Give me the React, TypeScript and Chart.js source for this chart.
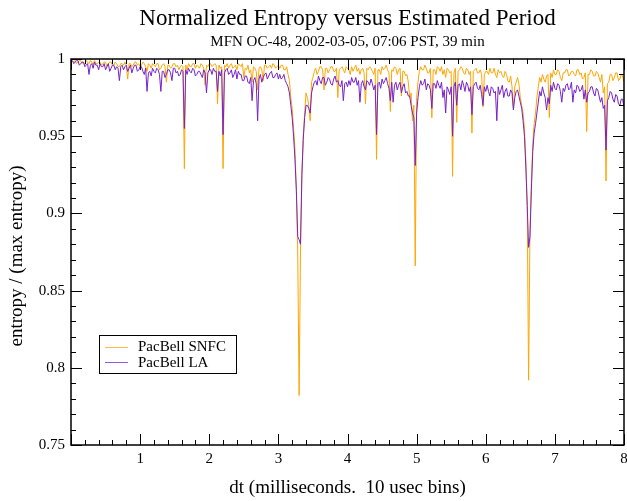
import React, { useEffect, useRef } from "react";
import { Chart, registerables } from "chart.js";

Chart.register(...registerables);

// ---- data -----------------------------------------------------------------
const titleText = "Normalized Entropy versus Estimated Period";
const subtitleText = "MFN OC-48, 2002-03-05, 07:06 PST, 39 min";
const xAxisTitle = "dt (milliseconds.  10 usec bins)";
const yAxisTitle = "entropy / (max entropy)";
const seriesNames = ["PacBell SNFC", "PacBell LA"];

// bin positions (ms), 20 usec apart
const binCount = 400;
const binWidthMs = 0.02;
const dtMs: number[] = Array.from({ length: binCount }, (_, k) => +((k + 1) * binWidthMs).toFixed(2));

const snfcEntropy: number[] = [
  // 0 - 1 ms
  0.999, 0.998, 0.999, 0.997, 0.998, 0.999, 0.999, 0.997, 0.998, 0.996, 0.999, 0.998, 0.997, 0.999, 0.998, 0.996, 0.999, 0.997, 0.997, 0.998, 0.998, 0.996, 0.997, 0.998, 0.998, 0.995,
  0.997, 0.998, 0.998, 0.996, 0.996, 0.998, 0.997, 0.995, 0.995, 0.997, 0.997, 0.996, 0.998, 0.996, 0.987, 0.997, 0.997, 0.995, 0.996, 0.998, 0.998, 0.996, 0.997, 0.995,
  // 1 - 2 ms
  0.996, 0.998, 0.997, 0.995, 0.992, 0.997, 0.996, 0.994, 0.997, 0.996, 0.995, 0.997, 0.997, 0.993, 0.994, 0.996, 0.997, 0.995, 0.985, 0.996, 0.996, 0.994, 0.995, 0.997, 0.997,
  0.995, 0.996, 0.993, 0.995, 0.996, 0.995, 0.929, 0.996, 0.993, 0.997, 0.995, 0.995, 0.997, 0.997, 0.994, 0.996, 0.995, 0.994, 0.997, 0.996, 0.994, 0.983, 0.996, 0.995, 0.997,
  // 2 - 3 ms
  0.997, 0.995, 0.996, 0.997, 0.996, 0.971, 0.996, 0.994, 0.995, 0.929, 0.996, 0.995, 0.997, 0.994, 0.996, 0.997, 0.994, 0.995, 0.996, 0.993, 0.997, 0.996, 0.995, 0.997, 0.988,
  0.994, 0.993, 0.996, 0.991, 0.993, 0.985, 0.995, 0.994, 0.992, 0.980, 0.994, 0.995, 0.993, 0.986, 0.996, 0.996, 0.994, 0.995, 0.996, 0.994, 0.997, 0.996, 0.994, 0.995, 0.996,
  // 3 - 4 ms
  0.994, 0.996, 0.996, 0.993, 0.993, 0.995, 0.990, 0.986, 0.975, 0.968, 0.955, 0.942, 0.915, 0.875, 0.782, 0.875, 0.925, 0.950, 0.965, 0.978, 0.975, 0.970, 0.960, 0.985, 0.988,
  0.992, 0.994, 0.990, 0.992, 0.995, 0.995, 0.993, 0.980, 0.994, 0.994, 0.991, 0.993, 0.995, 0.995, 0.992, 0.992, 0.994, 0.975, 0.993, 0.994, 0.995, 0.993, 0.991, 0.995, 0.994,
  // 4 - 5 ms
  0.993, 0.990, 0.995, 0.992, 0.994, 0.996, 0.992, 0.994, 0.990, 0.993, 0.994, 0.991, 0.971, 0.994, 0.993, 0.995, 0.994, 0.992, 0.990, 0.994, 0.935, 0.993, 0.993, 0.990, 0.995,
  0.993, 0.994, 0.996, 0.993, 0.991, 0.966, 0.993, 0.992, 0.995, 0.994, 0.990, 0.993, 0.994, 0.976, 0.992, 0.992, 0.989, 0.990, 0.985, 0.975, 0.978, 0.960, 0.970, 0.866, 0.975,
  // 5 - 6 ms
  0.985, 0.992, 0.995, 0.993, 0.993, 0.996, 0.994, 0.991, 0.991, 0.994, 0.962, 0.993, 0.993, 0.990, 0.995, 0.994, 0.992, 0.995, 0.990, 0.993, 0.988, 0.994, 0.993, 0.991, 0.992,
  0.924, 0.991, 0.994, 0.959, 0.992, 0.993, 0.995, 0.994, 0.991, 0.990, 0.994, 0.993, 0.990, 0.992, 0.952, 0.992, 0.993, 0.994, 0.991, 0.991, 0.993, 0.990, 0.969, 0.990, 0.992,
  // 6 - 7 ms
  0.992, 0.990, 0.994, 0.991, 0.991, 0.994, 0.990, 0.988, 0.993, 0.991, 0.992, 0.989, 0.988, 0.992, 0.990, 0.986, 0.985, 0.989, 0.982, 0.968, 0.982, 0.985, 0.988, 0.984, 0.975,
  0.970, 0.965, 0.955, 0.935, 0.905, 0.792, 0.890, 0.920, 0.945, 0.958, 0.965, 0.975, 0.982, 0.988, 0.985, 0.990, 0.987, 0.985, 0.989, 0.990, 0.962, 0.991, 0.988, 0.993, 0.990,
  // 7 - 8 ms
  0.990, 0.993, 0.992, 0.988, 0.986, 0.991, 0.991, 0.993, 0.993, 0.989, 0.990, 0.992, 0.992, 0.990, 0.989, 0.993, 0.993, 0.990, 0.991, 0.987, 0.988, 0.991, 0.953, 0.990, 0.990,
  0.993, 0.992, 0.989, 0.989, 0.992, 0.991, 0.988, 0.985, 0.990, 0.978, 0.982, 0.921, 0.984, 0.985, 0.990, 0.990, 0.986, 0.988, 0.991, 0.991, 0.986, 0.987, 0.990, 0.989, 0.985,
];

const laEntropy: number[] = [
  // 0 - 1 ms
  0.999, 0.997, 0.998, 0.999, 0.999, 0.996, 0.997, 0.998, 0.998, 0.995, 0.996, 0.997, 0.990, 0.996, 0.997, 0.994, 0.998, 0.996, 0.996, 0.993, 0.997, 0.995, 0.995, 0.997, 0.993,
  0.995, 0.997, 0.992, 0.994, 0.996, 0.996, 0.993, 0.995, 0.994, 0.986, 0.995, 0.996, 0.993, 0.995, 0.996, 0.992, 0.994, 0.996, 0.991, 0.994, 0.996, 0.996, 0.992, 0.993, 0.995,
  // 1 - 2 ms
  0.995, 0.992, 0.990, 0.994, 0.979, 0.991, 0.992, 0.989, 0.994, 0.992, 0.991, 0.994, 0.993, 0.990, 0.979, 0.992, 0.992, 0.988, 0.990, 0.993, 0.993, 0.991, 0.986, 0.994, 0.994,
  0.991, 0.992, 0.989, 0.990, 0.993, 0.992, 0.955, 0.993, 0.990, 0.994, 0.992, 0.991, 0.994, 0.993, 0.989, 0.990, 0.992, 0.992, 0.990, 0.988, 0.993, 0.991, 0.978, 0.991, 0.993,
  // 2 - 3 ms
  0.993, 0.990, 0.994, 0.992, 0.992, 0.979, 0.992, 0.989, 0.993, 0.951, 0.991, 0.993, 0.994, 0.990, 0.991, 0.993, 0.988, 0.990, 0.993, 0.987, 0.992, 0.990, 0.990, 0.986, 0.986,
  0.989, 0.989, 0.985, 0.984, 0.988, 0.973, 0.986, 0.988, 0.984, 0.960, 0.987, 0.990, 0.985, 0.988, 0.990, 0.991, 0.987, 0.989, 0.991, 0.992, 0.988, 0.988, 0.990, 0.991, 0.987,
  // 3 - 4 ms
  0.990, 0.987, 0.988, 0.990, 0.986, 0.984, 0.982, 0.978, 0.970, 0.962, 0.950, 0.935, 0.915, 0.885, 0.883, 0.880, 0.925, 0.948, 0.962, 0.970, 0.970, 0.968, 0.965, 0.978, 0.982,
  0.985, 0.986, 0.983, 0.989, 0.986, 0.984, 0.988, 0.988, 0.983, 0.985, 0.988, 0.987, 0.984, 0.983, 0.987, 0.989, 0.985, 0.986, 0.983, 0.982, 0.986, 0.973, 0.984, 0.985, 0.982,
  // 4 - 5 ms
  0.986, 0.983, 0.988, 0.985, 0.985, 0.988, 0.983, 0.986, 0.972, 0.984, 0.986, 0.982, 0.980, 0.986, 0.985, 0.983, 0.987, 0.984, 0.980, 0.983, 0.951, 0.984, 0.985, 0.981, 0.987,
  0.984, 0.986, 0.988, 0.984, 0.981, 0.973, 0.985, 0.972, 0.983, 0.985, 0.980, 0.983, 0.985, 0.978, 0.982, 0.984, 0.978, 0.979, 0.976, 0.976, 0.970, 0.965, 0.962, 0.931, 0.965,
  // 5 - 6 ms
  0.975, 0.982, 0.986, 0.983, 0.984, 0.987, 0.980, 0.984, 0.983, 0.980, 0.968, 0.984, 0.984, 0.981, 0.986, 0.983, 0.981, 0.985, 0.975, 0.980, 0.965, 0.982, 0.980, 0.977, 0.982,
  0.950, 0.982, 0.985, 0.970, 0.983, 0.984, 0.980, 0.986, 0.983, 0.979, 0.985, 0.983, 0.979, 0.982, 0.964, 0.982, 0.984, 0.985, 0.981, 0.980, 0.983, 0.977, 0.970, 0.982, 0.979,
  // 6 - 7 ms
  0.983, 0.979, 0.976, 0.982, 0.981, 0.978, 0.979, 0.960, 0.982, 0.977, 0.980, 0.983, 0.975, 0.979, 0.981, 0.976, 0.976, 0.980, 0.978, 0.967, 0.975, 0.979, 0.980, 0.976, 0.972,
  0.968, 0.960, 0.950, 0.930, 0.905, 0.878, 0.885, 0.915, 0.940, 0.952, 0.958, 0.965, 0.972, 0.979, 0.976, 0.982, 0.978, 0.975, 0.967, 0.975, 0.971, 0.983, 0.979, 0.985, 0.981,
  // 7 - 8 ms
  0.980, 0.984, 0.983, 0.979, 0.972, 0.981, 0.979, 0.983, 0.984, 0.980, 0.981, 0.985, 0.972, 0.980, 0.978, 0.983, 0.982, 0.979, 0.980, 0.983, 0.974, 0.980, 0.972, 0.978, 0.979,
  0.982, 0.982, 0.978, 0.976, 0.981, 0.980, 0.976, 0.972, 0.975, 0.968, 0.970, 0.941, 0.973, 0.975, 0.979, 0.978, 0.974, 0.972, 0.977, 0.976, 0.971, 0.970, 0.974, 0.974, 0.969,
];

const xRange = [0, 8];
const yRange = [0.75, 1];

// ---- styling ----------------------------------------------------------------
const SERIF = "'Liberation Serif', 'Times New Roman', serif";
const ORANGE = "#ffa500";
const PURPLE = "rgb(118, 34, 200)";

const decorPlugin = {
  id: "decor",
  afterDraw(chart: any) {
    const { ctx, chartArea: a, scales } = chart;
    const xs = scales.x;
    const ys = scales.y;
    ctx.save();

    // frame
    ctx.strokeStyle = "#000";
    ctx.lineWidth = 1.5;
    ctx.strokeRect(a.left, a.top, a.right - a.left, a.bottom - a.top);

    // inward ticks, major + minor, on all four sides
    ctx.lineWidth = 1;
    ctx.beginPath();
    for (let k = 0; k <= 40; k++) {
      const v = xRange[0] + k * 0.2;
      const px = Math.round(xs.getPixelForValue(v)) + 0.5;
      const len = k % 5 === 0 ? 11 : 5;
      ctx.moveTo(px, a.bottom);
      ctx.lineTo(px, a.bottom - len);
      ctx.moveTo(px, a.top);
      ctx.lineTo(px, a.top + len);
    }
    for (let k = 0; k <= 25; k++) {
      const v = yRange[0] + k * 0.01;
      const py = Math.round(ys.getPixelForValue(v)) + 0.5;
      const len = k % 5 === 0 ? 11 : 5;
      ctx.moveTo(a.left, py);
      ctx.lineTo(a.left + len, py);
      ctx.moveTo(a.right, py);
      ctx.lineTo(a.right - len, py);
    }
    ctx.stroke();

    const cx = (a.left + a.right) / 2;
    ctx.fillStyle = "#000";
    ctx.textAlign = "center";
    ctx.textBaseline = "alphabetic";
    ctx.font = `23px ${SERIF}`;
    ctx.fillText(titleText, cx, 25);
    ctx.font = `15px ${SERIF}`;
    ctx.fillText(subtitleText, cx, 46);

    ctx.font = `19px ${SERIF}`;
    ctx.fillText(xAxisTitle, cx, 493);

    ctx.save();
    ctx.translate(17, (a.top + a.bottom) / 2 + 4);
    ctx.rotate(-Math.PI / 2);
    ctx.textBaseline = "middle";
    ctx.fillText(yAxisTitle, 0, 0);
    ctx.restore();

    // legend box
    const lx = 99, ly = 335, lw = 137, lh = 38;
    ctx.fillStyle = "#fff";
    ctx.fillRect(lx, ly, lw, lh);
    ctx.strokeStyle = "#000";
    ctx.lineWidth = 1;
    ctx.strokeRect(lx + 0.5, ly + 0.5, lw, lh);
    const rows = [
      { name: seriesNames[0], color: ORANGE, y: 346.5 },
      { name: seriesNames[1], color: PURPLE, y: 362 },
    ];
    ctx.font = `15px ${SERIF}`;
    ctx.textAlign = "left";
    ctx.textBaseline = "middle";
    for (const r of rows) {
      ctx.strokeStyle = r.color;
      ctx.globalAlpha = 0.75;
      ctx.beginPath();
      ctx.moveTo(105, Math.round(r.y) + 0.5);
      ctx.lineTo(128, Math.round(r.y) + 0.5);
      ctx.stroke();
      ctx.globalAlpha = 1;
      ctx.fillStyle = "#000";
      ctx.fillText(r.name, 138, r.y + 1);
    }
    ctx.restore();
  },
};

export default function App() {
  const canvasRef = useRef<HTMLCanvasElement | null>(null);

  useEffect(() => {
    if (!canvasRef.current) return;
    const chart = new Chart(canvasRef.current, {
      type: "line",
      data: {
        datasets: [
          {
            label: seriesNames[0],
            data: dtMs.map((x, i) => ({ x, y: snfcEntropy[i] })),
            borderColor: ORANGE,
            borderWidth: 1,
            pointRadius: 0,
            tension: 0,
            order: 2,
          },
          {
            label: seriesNames[1],
            data: dtMs.map((x, i) => ({ x, y: laEntropy[i] })),
            borderColor: PURPLE,
            borderWidth: 1,
            pointRadius: 0,
            tension: 0,
            order: 1,
          },
        ],
      },
      options: {
        animation: false,
        responsive: false,
        maintainAspectRatio: false,
        events: [],
        layout: { padding: { top: 59, right: 3, left: 0, bottom: 0 } },
        plugins: {
          legend: { display: false },
          tooltip: { enabled: false },
          title: { display: false },
        },
        scales: {
          x: {
            type: "linear",
            min: xRange[0],
            max: xRange[1],
            grid: { display: false, drawTicks: false },
            border: { display: false },
            afterFit: (s: any) => {
              s.height = 56;
              s.paddingLeft = 0;
              s.paddingRight = 0;
            },
            ticks: {
              stepSize: 1,
              autoSkip: false,
              maxRotation: 0,
              padding: 5,
              color: "#000",
              font: { family: SERIF, size: 15 },
              callback: (v: any) => (Number(v) === 0 ? "" : String(v)),
            },
          },
          y: {
            type: "linear",
            min: yRange[0],
            max: yRange[1],
            grid: { display: false, drawTicks: false },
            border: { display: false },
            afterFit: (s: any) => {
              s.width = 71;
              s.paddingTop = 0;
              s.paddingBottom = 0;
            },
            ticks: {
              stepSize: 0.05,
              padding: 6,
              color: "#000",
              font: { family: SERIF, size: 15 },
              callback: (v: any) => String(Math.round(Number(v) * 100) / 100),
            },
          },
        },
      },
      plugins: [decorPlugin],
    });
    return () => chart.destroy();
  }, []);

  return (
    <div style={{ position: "absolute", left: 0, top: 0, width: 627, height: 501, background: "#fff" }}>
      <canvas ref={canvasRef} width={627} height={501} />
    </div>
  );
}
